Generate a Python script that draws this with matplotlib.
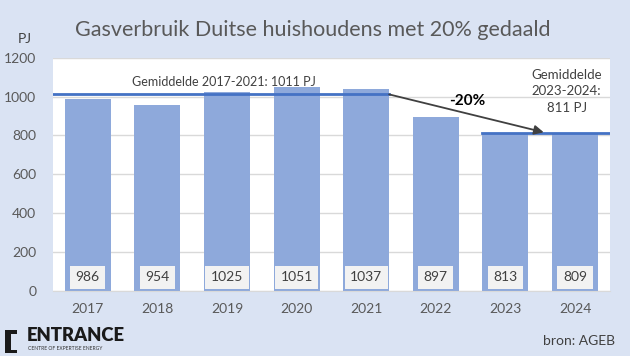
import matplotlib.pyplot as plt
from matplotlib.patches import Polygon

plt.rcParams['font.family'] = ['Lato', 'DejaVu Sans']

years = ['2017', '2018', '2019', '2020', '2021', '2022', '2023', '2024']
verbruik = [986, 954, 1025, 1051, 1037, 897, 813, 809]
gem_oud = 1011
gem_nieuw = 811

BG = '#DAE3F3'
BAR = '#8EA9DB'
LINE = '#4472C4'
GREY = '#595959'

fig = plt.figure(figsize=(6.3, 3.56), dpi=100, facecolor=BG)
ax = fig.add_axes([0.084, 0.183, 0.884, 0.655])
ax.set_facecolor('white')

x = list(range(len(years)))
ax.bar(x, verbruik, width=0.66, color=BAR, zorder=2)

# waarde labels in grijze kaders
for xi, v in zip(x, verbruik):
    ax.text(xi, 70, str(v), ha='center', va='center', fontsize=10, color='#404040',
            bbox=dict(boxstyle='square,pad=0.4', fc='#F2F2F2', ec='none'), zorder=4)

# gemiddelden
ax.plot([-0.5, 4.33], [gem_oud, gem_oud], color=LINE, lw=2, zorder=3)
ax.plot([5.67, 7.5], [gem_nieuw, gem_nieuw], color=LINE, lw=2, zorder=3)
ax.annotate('', xy=(6.55, gem_nieuw + 5), xytext=(4.33, gem_oud),
            arrowprops=dict(arrowstyle='-|>', color='#404040', lw=1.3,
                            mutation_scale=14, shrinkA=0, shrinkB=0), zorder=5)
ax.text(1.96, 1077, 'Gemiddelde 2017-2021: 1011 PJ', ha='center', va='center',
        fontsize=9, color='#404040', zorder=5)
ax.text(5.45, 978, '-20%', ha='center', va='center', fontsize=11, fontweight='bold',
        color='black', zorder=5)
ax.text(6.88, 1026, 'Gemiddelde\n2023-2024:\n811 PJ', ha='center', va='center',
        fontsize=9.5, color='#404040', linespacing=1.45, zorder=5)

ax.set_xlim(-0.5, 7.5)
ax.set_ylim(0, 1200)
ax.set_yticks(range(0, 1201, 200))
ax.set_xticks(x)
ax.set_xticklabels(years)
ax.yaxis.grid(True, color='#D9D9D9', lw=1, zorder=0)
ax.set_axisbelow(True)
for s in ['top', 'right', 'left']:
    ax.spines[s].set_visible(False)
ax.spines['bottom'].set_color('#D9D9D9')
ax.tick_params(axis='both', length=0, labelsize=10, labelcolor=GREY, pad=9)
ax.tick_params(axis='y', pad=12)

fig.text(0.496, 0.916, 'Gasverbruik Duitse huishoudens met 20% gedaald',
         ha='center', va='center', fontsize=15.5, color=GREY)
fig.text(0.04, 0.89, 'PJ', ha='center', va='center', fontsize=10, color='#404040')
fig.text(0.976, 0.042, 'bron: AGEB', ha='right', va='center', fontsize=10, color='#404040')

# logo
brk = Polygon([(0.008, 0.073), (0.027, 0.073), (0.027, 0.062), (0.018, 0.062),
               (0.018, 0.018), (0.027, 0.018), (0.027, 0.008), (0.008, 0.008)],
              closed=True, transform=fig.transFigure, fc='#1a1a1a', ec='none')
fig.patches.append(brk)
fig.text(0.042, 0.058, 'ENTRANCE', ha='left', va='center', fontsize=13.3,
         fontweight='heavy', color='#1a1a1a')
fig.text(0.045, 0.02, 'CENTRE OF EXPERTISE ENERGY', ha='left', va='center',
         fontsize=3.6, color='#333333')

fig.savefig('out.png', dpi=100, facecolor=BG)
